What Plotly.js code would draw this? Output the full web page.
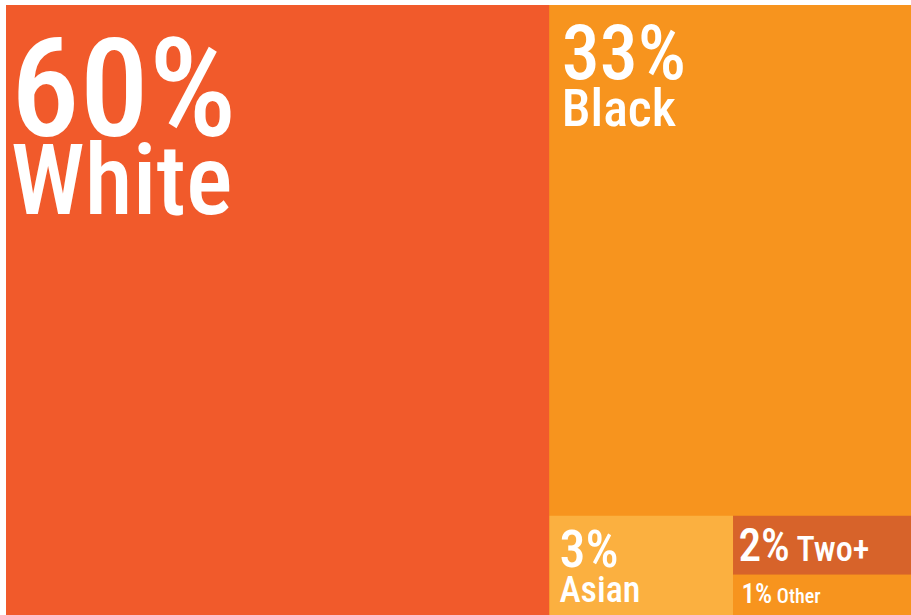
<!DOCTYPE html>
<html>
<head>
<meta charset="utf-8">
<script src="https://cdn.plot.ly/plotly-3.0.1.min.js"></script>
<style>html,body{margin:0;padding:0;background:#fff;}#chart{width:911px;height:615px;}</style>
</head>
<body>
<div id="chart"></div>
<script>
// Hierarchy (slice-and-dice treemap)
const ids     = ['root', 'White', 'Rest', 'Black', 'Lower', 'Asian', 'Small', 'Two+', 'Other'];
const labels  = ['',     'White', '',     'Black', '',      'Asian', '',      'Two+', 'Other'];
const parents = ['',     'root',  'root', 'Rest',  'Rest',  'Lower', 'Lower', 'Small', 'Small'];
const values  = [0,      60.0,    0,      33.4,    0,       3.3,     0,       1.9,    1.3];

// Styles (not data)
const colors = ['#F7941E', '#F15A2B', '#F7941E', '#F7941E', '#F7941E', '#FBB040', '#F7941E', '#D7632A', '#F7941E'];
const pctSize   = {White: 138, Black: 76, Asian: 52, 'Two+': 53, Other: 27};
const labelSize = {White: 98,  Black: 52, Asian: 36, 'Two+': 40, Other: 20};
const baseSize  = {White: 60,  Black: 36, Asian: 27, 'Two+': 40, Other: 20};
const indent    = {White: 8,   Black: 40, Asian: 30, 'Two+': 12, Other: 24}; // spacer font size
const oneLine   = {'Two+': '\u2009', Other: ' '};

function spacer(id) {
  return indent[id] ? "<span style='font-size:" + indent[id] + "px'>\u00a0</span>" : '';
}
const templates = ids.map(function (id) {
  if (!(id in pctSize)) return '';
  const pct = "<span style='font-size:" + pctSize[id] + "px'>%{value:.0f}%</span>";
  const lab = "<span style='font-size:" + labelSize[id] + "px'>%{label}</span>";
  return (id in oneLine) ? spacer(id) + pct + oneLine[id] + lab
                         : spacer(id) + pct + '<br>' + spacer(id) + lab;
});
const fontSizes = ids.map(function (id) { return baseSize[id] || 12; });

const FONT = "'Roboto Condensed', 'Roboto', sans-serif";

const trace = {
  type: 'treemap',
  ids: ids,
  labels: labels,
  parents: parents,
  values: values,
  branchvalues: 'remainder',
  sort: false,
  tiling: {packing: 'slice-dice', pad: 0},
  pathbar: {visible: false},
  marker: {colors: colors, line: {width: 0}, pad: {t: 0, l: 0, r: 0, b: 0}},
  texttemplate: templates,
  textposition: 'top left',
  textfont: {family: FONT, color: '#ffffff', size: fontSizes, weight: 460},
  hoverinfo: 'skip'
};

const layout = {
  width: 911,
  height: 615,
  margin: {l: 6, r: 0, t: 5, b: 0, pad: 0},
  paper_bgcolor: '#ffffff',
  showlegend: false
};

Plotly.newPlot('chart', [trace], layout, {displayModeBar: false, staticPlot: true});
</script>
</body>
</html>
